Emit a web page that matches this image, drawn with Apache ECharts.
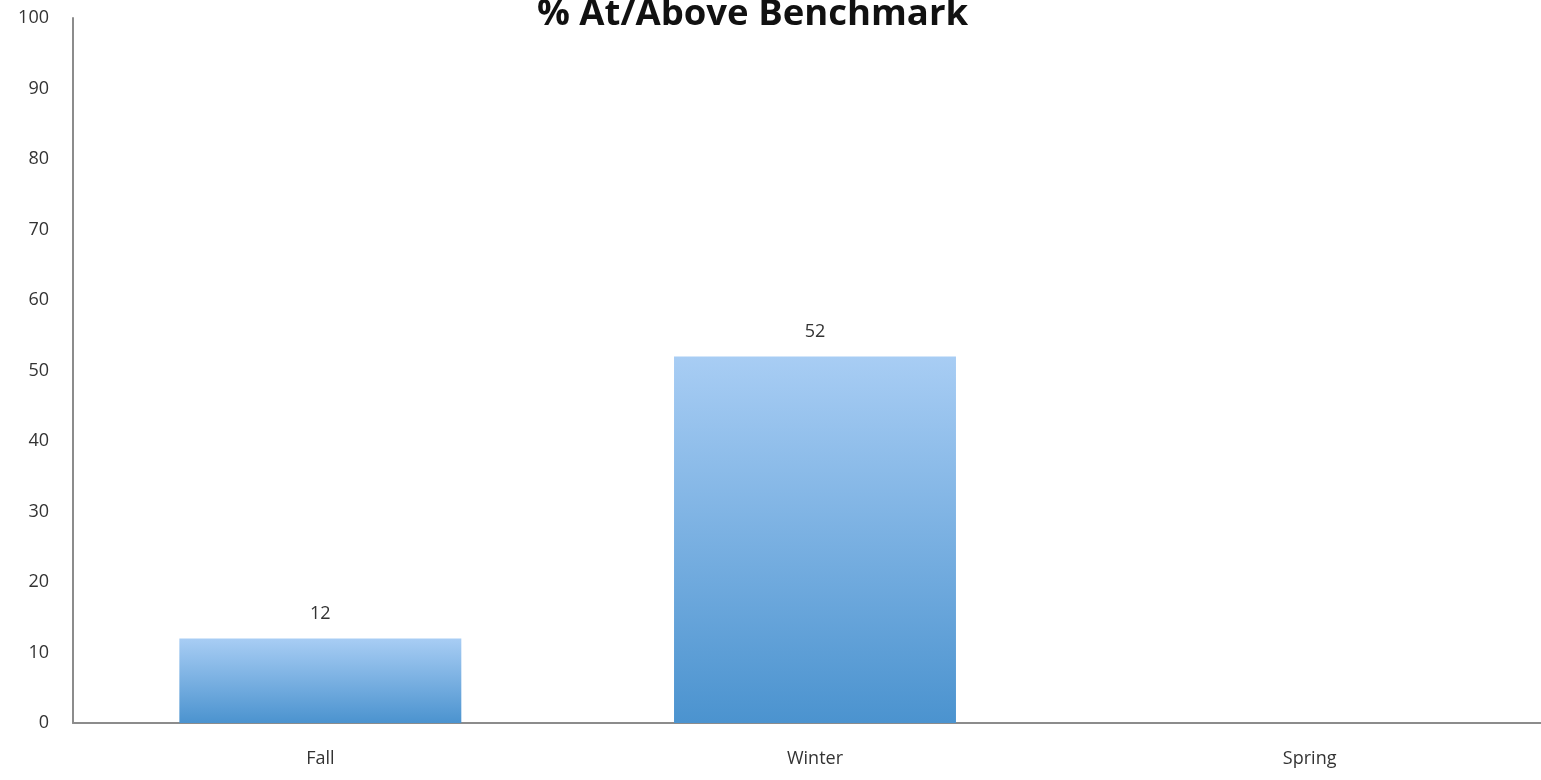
<!DOCTYPE html>
<html><head><meta charset="utf-8">
<script src="https://cdn.jsdelivr.net/npm/echarts@6/dist/echarts.min.js"></script>
<style>html,body{margin:0;padding:0;background:#fff}#c{width:1541px;height:780px}</style>
</head><body><div id="c"></div>
<script>
const categories = ['Fall', 'Winter', 'Spring'];
const values = [12, 52, null];
const yTicks = [0, 10, 20, 30, 40, 50, 60, 70, 80, 90, 100];
const titleText = '% At/Above Benchmark';

const chart = echarts.init(document.getElementById('c'));
chart.setOption({
  animation: false,
  backgroundColor: '#fff',
  title: {
    text: titleText, left: 532, top: -9,
    textStyle: { fontFamily: 'Open Sans', fontWeight: 'bold', fontSize: 36.5, color: '#111' }
  },
  grid: { left: 73, width: 1484, top: 18, bottom: 57, containLabel: false, outerBoundsMode: 'none' },
  xAxis: {
    type: 'category', data: categories,
    axisLine: { lineStyle: { color: '#8c8c8c', width: 2 } },
    axisTick: { show: false },
    axisLabel: { margin: 27, fontFamily: 'Open Sans', fontSize: 18, color: '#333' }
  },
  yAxis: {
    type: 'value', min: yTicks[0], max: yTicks[yTicks.length - 1], interval: 10,
    axisLine: { show: true, lineStyle: { color: '#8c8c8c', width: 2 } },
    axisTick: { show: false },
    splitLine: { show: false },
    axisLabel: { margin: 24, fontFamily: 'Open Sans', fontSize: 18, color: '#333' }
  },
  series: [{
    type: 'bar', data: values, barWidth: '57%',
    itemStyle: {
      color: new echarts.graphic.LinearGradient(0, 0, 0, 1, [
        { offset: 0, color: '#a8cdf4' },
        { offset: 1, color: '#4b93cf' }
      ])
    },
    label: { show: true, position: 'top', distance: 16, fontFamily: 'Open Sans', fontSize: 18, color: '#333' }
  }]
});
</script></body></html>
